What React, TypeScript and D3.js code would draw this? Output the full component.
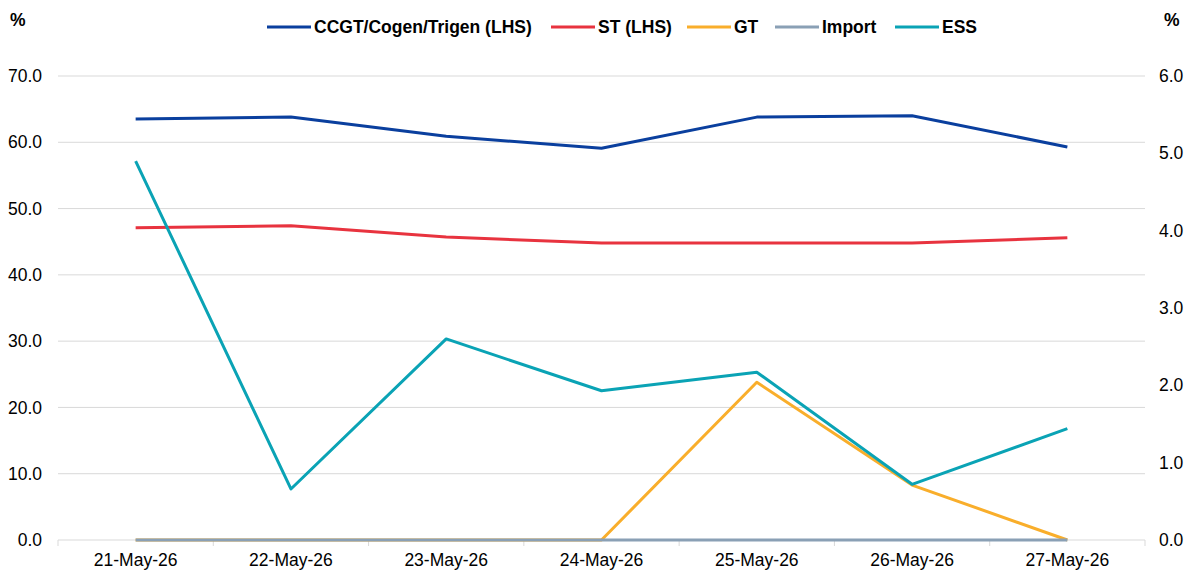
import React from 'react';
import * as d3 from 'd3';

const dates = ['21-May-26', '22-May-26', '23-May-26', '24-May-26', '25-May-26', '26-May-26', '27-May-26'];
const ccgt = [63.5, 63.8, 60.9, 59.1, 63.8, 64.0, 59.3];
const st = [47.1, 47.4, 45.7, 44.8, 44.8, 44.8, 45.6];
const gt = [0, 0, 0, 0, 2.04, 0.71, 0];
const imp = [0, 0, 0, 0, 0, 0, 0];
const ess = [4.9, 0.66, 2.6, 1.93, 2.17, 0.72, 1.44];
const leftTicks = [0, 10, 20, 30, 40, 50, 60, 70];
const rightTicks = [0, 1, 2, 3, 4, 5, 6];

const series = [
  { name: 'CCGT/Cogen/Trigen (LHS)', values: ccgt, color: '#0a3f9e', axis: 'left' },
  { name: 'ST (LHS)', values: st, color: '#e8333f', axis: 'left' },
  { name: 'GT', values: gt, color: '#f9ae2b', axis: 'right' },
  { name: 'Import', values: imp, color: '#8aa0b5', axis: 'right' },
  { name: 'ESS', values: ess, color: '#0aa3b5', axis: 'right' },
];

const width = 1187;
const height = 574;
const margin = { top: 76, right: 42, bottom: 34, left: 58 };
const font = '"Liberation Sans", Arial, sans-serif';
const fs = 17.5;

const App = () => {
  const x = d3.scaleBand().domain(dates).range([margin.left, width - margin.right]);
  const yL = d3.scaleLinear().domain([0, 70]).range([height - margin.bottom, margin.top]);
  const yR = d3.scaleLinear().domain([0, 6]).range([height - margin.bottom, margin.top]);

  const legendX = [267, 551, 687, 775, 895];

  return (
    <svg width={width} height={height} style={{ position: 'absolute', left: 0, top: 0, fontFamily: font }}>
      <rect width={width} height={height} fill="#fff" />
      {leftTicks.map(t => (
        <line key={t} x1={margin.left} x2={width - margin.right} y1={yL(t)} y2={yL(t)} stroke="#d9d9d9" strokeWidth={1} />
      ))}
      {dates.map(d => (
        <line key={d} x1={x(d)!} x2={x(d)!} y1={yL(0)} y2={yL(0) + 6} stroke="#d9d9d9" />
      ))}
      <line x1={width - margin.right} x2={width - margin.right} y1={yL(0)} y2={yL(0) + 6} stroke="#d9d9d9" />

      {leftTicks.map(t => (
        <text key={t} x={42} y={yL(t)} dy="0.35em" textAnchor="end" fontSize={fs} fill="#000">{t.toFixed(1)}</text>
      ))}
      {rightTicks.map(t => (
        <text key={t} x={1159} y={yR(t)} dy="0.35em" textAnchor="start" fontSize={fs} fill="#000">{t.toFixed(1)}</text>
      ))}
      {dates.map(d => (
        <text key={d} x={x(d)! + x.bandwidth() / 2} y={566} textAnchor="middle" fontSize={fs} fill="#000">{d}</text>
      ))}

      <text x={10} y={26} fontSize={fs} fontWeight="bold">%</text>
      <text x={1164} y={26} fontSize={fs} fontWeight="bold">%</text>

      {series.map(s => {
        const yS = s.axis === 'left' ? yL : yR;
        const line = d3.line<number>()
          .x((_, i) => x(dates[i])! + x.bandwidth() / 2)
          .y(v => yS(v));
        return <path key={s.name} d={line(s.values)!} fill="none" stroke={s.color} strokeWidth={3} strokeLinejoin="round" />;
      })}

      {series.map((s, i) => (
        <g key={s.name} transform={`translate(${legendX[i]},27)`}>
          <line x1={0} x2={44} y1={0} y2={0} stroke={s.color} strokeWidth={3} />
          <text x={47} y={0} dy="0.35em" fontSize={fs} fontWeight="bold">{s.name}</text>
        </g>
      ))}
    </svg>
  );
};

export default App;
